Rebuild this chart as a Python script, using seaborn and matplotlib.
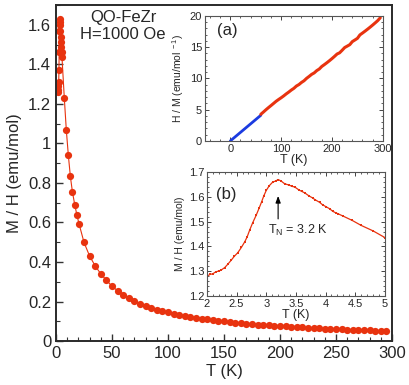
import matplotlib
matplotlib.use("Agg")
import matplotlib.pyplot as plt
import numpy as np
import pandas as pd
import seaborn as sns

# main panel: M/H vs T
T_main = [2.0, 2.1, 2.2, 2.4, 2.6, 2.8, 3.0, 3.2, 3.4, 3.6, 3.8, 4.0, 4.3, 4.6, 4.9,
          5.3, 7.4, 9.2, 11.0, 12.8, 14.6, 16.7, 18.7, 20.5,
          25, 30, 35, 40, 45, 50, 55, 60, 65, 70, 75, 80, 85, 90, 95,
          100, 105, 110, 115, 120, 125, 130, 135, 140, 145, 150, 155, 160, 165, 170,
          175, 180, 185, 190, 195, 200, 205, 210, 215, 220, 225, 230, 235, 240, 245,
          250, 255, 260, 265, 270, 275, 280, 285, 290, 295]
MH_main = [1.258, 1.27, 1.288, 1.312, 1.373, 1.46, 1.57, 1.63, 1.614, 1.597, 1.57, 1.54,
           1.515, 1.49, 1.46, 1.436, 1.228, 1.066, 0.939, 0.833, 0.756, 0.69, 0.636, 0.594,
           0.499, 0.43, 0.38, 0.34, 0.308, 0.277, 0.255, 0.235, 0.217, 0.201, 0.188,
           0.177, 0.167, 0.158, 0.151, 0.145, 0.139, 0.133, 0.128, 0.123, 0.119, 0.114,
           0.111, 0.107, 0.104, 0.100, 0.097, 0.094, 0.092, 0.089, 0.087, 0.084, 0.082,
           0.080, 0.078, 0.076, 0.074, 0.072, 0.071, 0.069, 0.067, 0.066, 0.065, 0.063,
           0.062, 0.061, 0.059, 0.058, 0.057, 0.056, 0.055, 0.054, 0.053, 0.052, 0.0508]

# inset (a): Curie-Weiss fit line (blue) drawn below the data range
T_fit = [0, 60]
HM_fit = [0, 4.1]

# inset (b): low-temperature M/H
T_b = [2.0, 2.05, 2.1, 2.15, 2.2, 2.24, 2.3, 2.35, 2.41, 2.46, 2.52, 2.58, 2.64, 2.68,
       2.72, 2.77, 2.83, 2.88, 2.92, 2.96, 3.0, 3.05, 3.11, 3.16, 3.2, 3.25, 3.31, 3.38,
       3.44, 3.48, 3.55, 3.6, 3.65, 3.72, 3.78, 3.82, 3.9, 3.95, 4.01, 4.07, 4.12, 4.17,
       4.21, 4.3, 4.45, 4.6, 4.8, 5.0]
MH_b = [1.28, 1.287, 1.29, 1.298, 1.301, 1.305, 1.315, 1.328, 1.345, 1.36, 1.375, 1.396,
        1.42, 1.44, 1.466, 1.495, 1.526, 1.555, 1.579, 1.605, 1.626, 1.645, 1.66, 1.664,
        1.67, 1.664, 1.653, 1.648, 1.642, 1.64, 1.628, 1.622, 1.616, 1.604, 1.596, 1.589,
        1.578, 1.568, 1.56, 1.552, 1.542, 1.536, 1.532, 1.522, 1.505, 1.485, 1.463, 1.436]

RED = "#e8330f"
BLUE = "#1b3be0"

sns.set_style("ticks")
plt.rcParams["font.family"] = ["Liberation Sans", "DejaVu Sans"]
plt.rcParams["mathtext.fontset"] = "custom"
plt.rcParams["mathtext.rm"] = "Liberation Sans"
plt.rcParams["mathtext.it"] = "Liberation Sans:italic"

main = pd.DataFrame({"T": T_main, "MH": MH_main})

fig = plt.figure(figsize=(4.09, 3.85), dpi=100)
ax = fig.add_axes([0.137, 0.114, 0.8215, 0.873])

sns.lineplot(data=main, x="T", y="MH", ax=ax, color=RED, lw=0.8, marker="o",
             markersize=5.2, markeredgewidth=0, sort=False)
ax.set_xlim(0, 300)
ax.set_ylim(0, 1.7)
ax.set_xticks([0, 50, 100, 150, 200, 250, 300])
ax.set_xticks(np.arange(0, 301, 10), minor=True)
ax.set_yticks([0, 0.2, 0.4, 0.6, 0.8, 1.0, 1.2, 1.4, 1.6])
ax.set_yticklabels(["0", "0.2", "0.4", "0.6", "0.8", "1", "1.2", "1.4", "1.6"])
ax.set_yticks(np.arange(0, 1.71, 0.1), minor=True)
ax.tick_params(which="both", direction="in", labelsize=12, color="#333333")
ax.tick_params(which="major", length=5, width=1)
ax.tick_params(which="minor", length=3, width=0.8)
ax.set_xlabel("T (K)", fontsize=12, labelpad=2)
ax.set_ylabel("M / H (emu/mol)", fontsize=12, labelpad=4)
for s in ax.spines.values():
    s.set_linewidth(1.4)
    s.set_color("#2a2a2a")
ax.text(0.2, 0.985, "QO-FeZr\nH=1000 Oe", transform=ax.transAxes, ha="center",
        va="top", fontsize=12, linespacing=1.15)


def style_inset(a):
    a.tick_params(which="both", direction="in", top=True, right=True,
                  labelsize=8, color="#444444", pad=2)
    a.tick_params(which="major", length=3, width=0.7)
    a.tick_params(which="minor", length=1.5, width=0.6)
    for s in a.spines.values():
        s.set_linewidth(0.8)
        s.set_color("#555555")


# inset (a): H/M vs T
axa = fig.add_axes([0.501, 0.634, 0.435, 0.325])
hi = main[main["T"] >= 60]
sns.lineplot(x=T_fit, y=HM_fit, ax=axa, color=BLUE, lw=2)
sns.lineplot(x=hi["T"], y=1 / hi["MH"], ax=axa, color=RED, lw=2.2)
axa.set_xlim(-50, 300)
axa.set_ylim(0, 20)
axa.set_xticks([0, 100, 200, 300])
axa.set_xticks(np.arange(-40, 301, 20), minor=True)
axa.set_yticks([0, 5, 10, 15, 20])
axa.set_yticks(np.arange(0, 21, 1), minor=True)
style_inset(axa)
axa.set_xlabel("T (K)", fontsize=9, labelpad=0)
axa.set_ylabel(r"H / M (emu/mol$^{\ -1}$)", fontsize=7.5, labelpad=3)
axa.text(0.07, 0.88, "(a)", transform=axa.transAxes, fontsize=12, va="center")

# inset (b): low-T M/H
axb = fig.add_axes([0.506, 0.231, 0.435, 0.322])
sns.lineplot(x=T_b, y=MH_b, ax=axb, color=RED, lw=0.9, marker="s",
             markersize=1.6, markeredgewidth=0, sort=False)
axb.set_xlim(2, 5)
axb.set_ylim(1.2, 1.7)
axb.set_xticks([2, 2.5, 3, 3.5, 4, 4.5, 5])
axb.set_xticklabels(["2", "2.5", "3", "3.5", "4", "4.5", "5"])
axb.set_xticks(np.arange(2, 5.01, 0.1), minor=True)
axb.set_yticks([1.2, 1.3, 1.4, 1.5, 1.6, 1.7])
axb.set_yticks(np.arange(1.2, 1.701, 0.02), minor=True)
style_inset(axb)
axb.set_xlabel("T (K)", fontsize=9, labelpad=0)
axb.set_ylabel("M / H (emu/mol)", fontsize=7.5, labelpad=3)
axb.text(0.05, 0.82, "(b)", transform=axb.transAxes, fontsize=12, va="center")
axb.annotate("", xy=(3.2, 1.615), xytext=(3.2, 1.5),
             arrowprops=dict(arrowstyle="-|>,head_width=0.15,head_length=0.4",
                             color="black", lw=0.8))
axb.text(3.03, 1.465, r"T$_\mathrm{N}$ = 3.2 K", fontsize=9, va="center")

fig.savefig("out.png", dpi=100)
